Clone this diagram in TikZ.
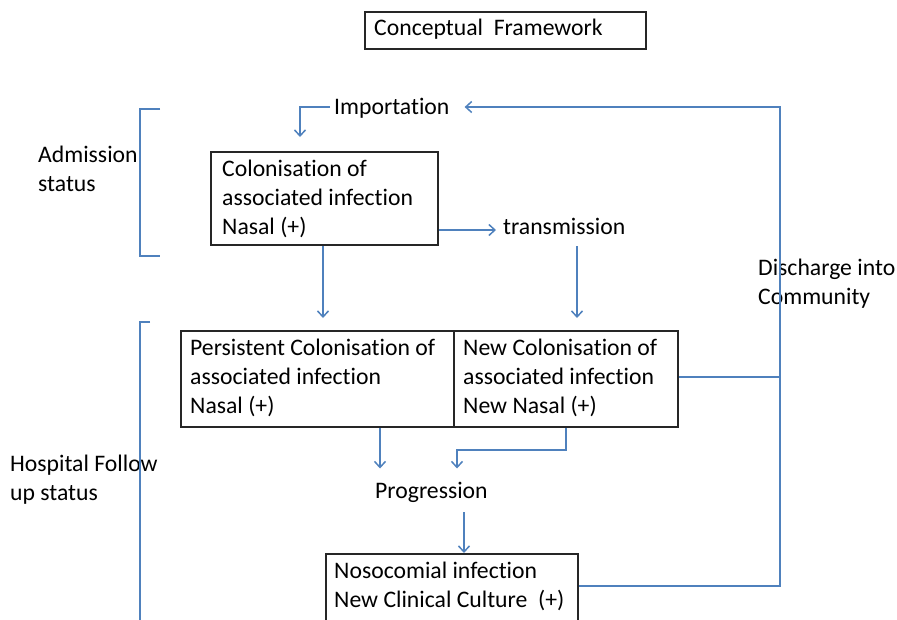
\documentclass[tikz,border=0pt]{standalone}
\usepackage{fontspec}
\setmainfont[Ligatures={NoCommon}]{Carlito}
\usetikzlibrary{arrows.meta,calc}
\definecolor{lineblue}{RGB}{79,129,189}
\begin{document}
\begin{tikzpicture}[x=1pt,y=-1pt,
  txt/.style={anchor=base west,inner sep=0pt,font=\fontsize{23.7}{29}\selectfont},
  box/.style={draw=black!85,line width=1.8pt,anchor=north west,inner sep=0pt},
  conn/.style={draw=lineblue,line width=1.5pt},
  arr/.style={conn,-{Straight Barb[length=6pt,width=11pt,line width=1.5pt]}}]
\useasboundingbox (0,0) rectangle (897,619);
% boxes
\node[box,minimum width=281pt,minimum height=37pt] (title) at (364,11) {};
\node[box,minimum width=227pt,minimum height=93pt] (col) at (210,151) {};
\node[box,minimum width=273pt,minimum height=96pt] (pers) at (180,330) {};
\node[box,minimum width=224pt,minimum height=96pt] (new) at (453,330) {};
\node[box,minimum width=252pt,minimum height=80pt] (noso) at (325,553) {};
% texts
\node[txt] (titletxt) at (374,35) {Conceptual\ \ Framework};
\node[txt] (imp) at (334,114) {Importation};
\node[txt] (trans) at (503,234) {transmission};
\node[txt] (col1) at (222,176) {Colonisation of};
\node[txt] (col2) at (222,205) {associated infection};
\node[txt] (col3) at (222,234) {Nasal (+)};
\node[txt] (pers1) at (190,355) {Persistent Colonisation of};
\node[txt] (pers2) at (190,384) {associated infection};
\node[txt] (pers3) at (190,413) {Nasal (+)};
\node[txt] (new1) at (463,355) {New Colonisation of};
\node[txt] (new2) at (463,384) {associated infection};
\node[txt] (new3) at (463,413) {New Nasal (+)};
\node[txt] (prog) at (375,498) {Progression};
\node[txt] (noso1) at (334,578) {Nosocomial infection};
\node[txt] (noso2) at (334,607) {New Clinical Culture\ \ (+)};
\node[txt] (adm1) at (38,162) {Admission};
\node[txt] (adm2) at (38,191) {status};
\node[txt] (hosp1) at (10,471) {Hospital Follow};
\node[txt] (hosp2) at (10,500) {up status};
\node[txt] (disc1) at (758,275) {Discharge into};
\node[txt] (disc2) at (758,304) {Community};
% helper coordinates
\coordinate (railtop) at (780,107);
\coordinate (railmid) at (780,377);
\coordinate (railbot) at (780,586);
\coordinate (px) at (380,0);
\coordinate (qx) at (457,0);
\coordinate (rx) at (464,0);
\coordinate (tx) at (577,0);
\coordinate (ix) at (300,0);
\coordinate (cx) at (323,0);
% brackets
\draw[conn] (160,109) -- (140,109) -- (140,256) -- (160,256);
\draw[conn] (150,322) -- (140,322) -- (140,640);
% connectors
\draw[arr] (noso.east |- railbot) -- (railbot) -- (railtop) -- ($(imp.east |- railtop)+(15,0)$);
\draw[conn] (new.east |- railmid) -- (railmid);
\draw[arr] ($(imp.west |- railtop)+(-4,0)$) -| ($(ix |- col.north)+(0,-14)$);
\draw[arr] (col.east |- 0,230) -- ($(trans.west |- 0,230)+(-7,0)$);
\draw[arr] (col.south -| cx) -- ($(cx |- pers.north)+(0,-12)$);
\draw[arr] ($(tx |- trans.south)+(0,12)$) -- ($(tx |- new.north)+(0,-12)$);
\draw[arr] (pers.south -| px) -- ($(px |- prog.north)+(0,-13)$);
\draw[arr] (new.south) -- ++(0,22) -| ($(qx |- prog.north)+(0,-13)$);
\draw[arr] ($(rx |- prog.south)+(0,10)$) -- (rx |- noso.north);
\end{tikzpicture}
\end{document}
